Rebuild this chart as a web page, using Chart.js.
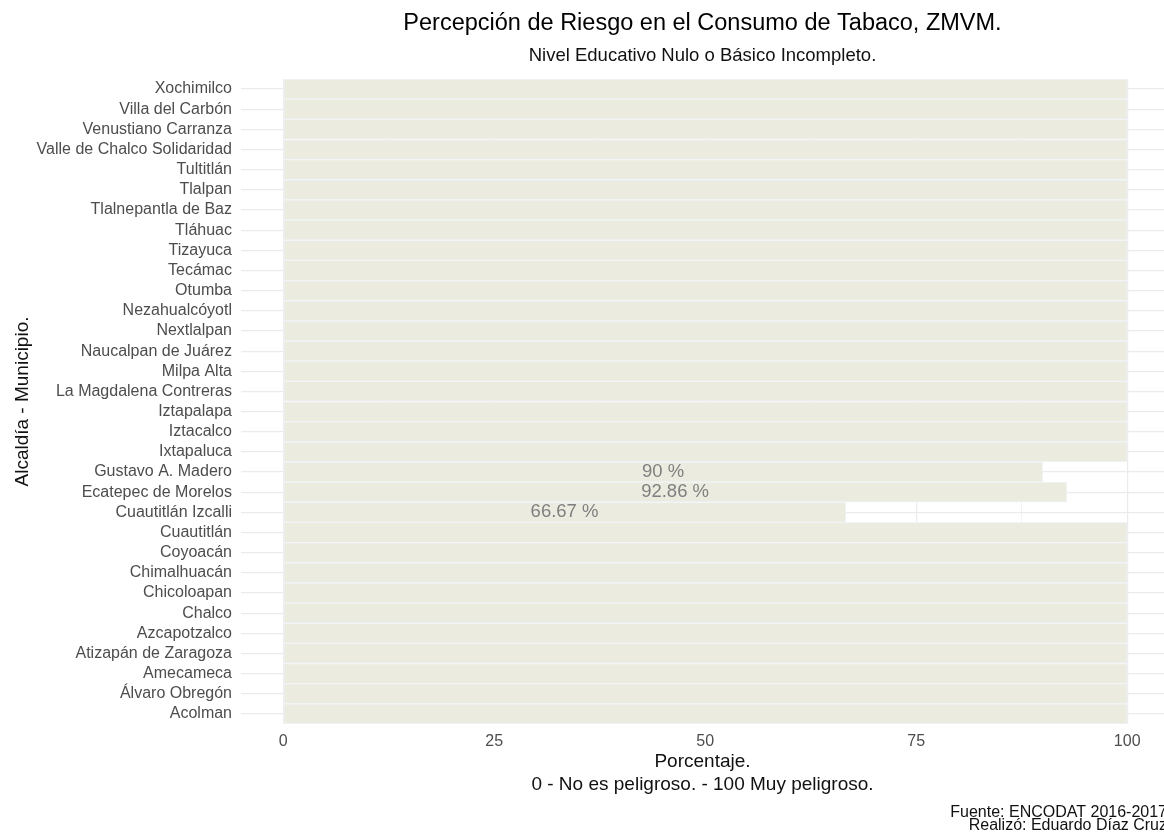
<!DOCTYPE html>
<html>
<head>
<meta charset="utf-8">
<script src="https://cdn.jsdelivr.net/npm/chart.js@4"></script>
<style>
  html, body { margin: 0; padding: 0; background: #fff; }
  #wrap { width: 1164px; height: 834px; position: relative; }
</style>
</head>
<body>
<div id="wrap"><canvas id="riesgoChart"></canvas></div>
<script>
// categorias (de arriba hacia abajo)
var municipios = [
    'Xochimilco', 'Villa del Carbón', 'Venustiano Carranza', 'Valle de Chalco Solidaridad',
    'Tultitlán', 'Tlalpan', 'Tlalnepantla de Baz', 'Tláhuac', 'Tizayuca', 'Tecámac',
    'Otumba', 'Nezahualcóyotl', 'Nextlalpan', 'Naucalpan de Juárez', 'Milpa Alta',
    'La Magdalena Contreras', 'Iztapalapa', 'Iztacalco', 'Ixtapaluca', 'Gustavo A. Madero',
    'Ecatepec de Morelos', 'Cuautitlán Izcalli', 'Cuautitlán', 'Coyoacán', 'Chimalhuacán',
    'Chicoloapan', 'Chalco', 'Azcapotzalco', 'Atizapán de Zaragoza', 'Amecameca',
    'Álvaro Obregón', 'Acolman'
]
var porcentaje = [
    100, 100, 100, 100, 100, 100, 100, 100, 100, 100,
    100, 100, 100, 100, 100, 100, 100, 100, 100, 90,
    92.86, 66.67, 100, 100, 100, 100, 100, 100, 100, 100,
    100, 100
]
var ticksX = [0, 12.5, 25, 37.5, 50, 62.5, 75, 87.5, 100]

var titulo = 'Percepción de Riesgo en el Consumo de Tabaco, ZMVM.'
var subtitulo = 'Nivel Educativo Nulo o Básico Incompleto.'
var tituloX = ['Porcentaje.', '0 - No es peligroso. - 100 Muy peligroso.']
var tituloY = 'Alcaldía - Municipio.'
var nota = ['Fuente: ENCODAT 2016-2017', 'Realizó: Eduardo Díaz Cruz']

var FONT = '"Liberation Sans", Arial, sans-serif'

// titulos, etiquetas de valores y nota
var textosPlugin = {
    id: 'textos',
    afterDatasetsDraw: function (chart) {
        var ctx = chart.ctx
        var meta = chart.getDatasetMeta(0)
        var xs = chart.scales.x
        ctx.save()
        ctx.font = '18.5px ' + FONT
        ctx.fillStyle = '#7f7f7f'
        ctx.textAlign = 'center'
        ctx.textBaseline = 'middle'
        porcentaje.forEach(function (v, i) {
            if (v >= 100) return
            ctx.fillText(v + ' %', xs.getPixelForValue(v / 2), meta.data[i].y)
        })
        ctx.restore()
    },
    afterDraw: function (chart) {
        var ctx = chart.ctx
        var area = chart.chartArea
        var cx = (area.left + area.right) / 2
        ctx.save()
        ctx.fillStyle = '#000'
        ctx.textAlign = 'center'
        ctx.textBaseline = 'alphabetic'
        ctx.font = '23.5px ' + FONT
        ctx.fillText(titulo, cx, 30)
        ctx.font = '18.5px ' + FONT
        ctx.fillStyle = '#111'
        ctx.fillText(subtitulo, cx, 61)
        ctx.textAlign = 'right'
        ctx.font = '16px ' + FONT
        ctx.fillText(nota[0], 1167, 817)
        ctx.fillText(nota[1], 1167, 829.5)
        ctx.restore()
    }
}

var ctx = document.getElementById('riesgoChart').getContext('2d')
new Chart(ctx, {
    type: 'bar',
    data: {
        labels: municipios,
        datasets: [{
            data: porcentaje,
            backgroundColor: '#ecebe0',
            borderColor: '#f1f5fa',
            borderWidth: 1,
            borderSkipped: false,
            categoryPercentage: 1,
            barPercentage: 1
        }]
    },
    options: {
        indexAxis: 'y',
        responsive: true,
        maintainAspectRatio: false,
        animation: false,
        layout: { padding: { top: 79, bottom: 38, left: 0, right: 0 } },
        plugins: {
            legend: { display: false },
            tooltip: { enabled: false }
        },
        scales: {
            x: {
                type: 'linear',
                min: -5,
                max: 104.36,
                afterBuildTicks: function (scale) {
                    scale.ticks = ticksX.map(function (v) { return { value: v } })
                },
                afterFit: function (scale) { scale.height = 72 },
                ticks: {
                    color: '#4d4d4d',
                    font: { family: FONT, size: 16 },
                    padding: 8,
                    maxRotation: 0,
                    autoSkip: false,
                    callback: function (v) { return v % 25 === 0 ? String(v) : '' }
                },
                grid: {
                    color: '#ebebeb',
                    lineWidth: function (c) { return c.tick && c.tick.value % 25 === 0 ? 1.2 : 0.6 },
                    drawTicks: false
                },
                border: { display: false },
                title: {
                    display: true,
                    text: tituloX,
                    color: '#111',
                    font: { family: FONT, size: 19, lineHeight: '22.5px' },
                    padding: { top: 0, bottom: 0 }
                }
            },
            y: {
                afterFit: function (scale) { scale.width = 241 },
                ticks: {
                    color: '#4d4d4d',
                    font: { family: FONT, size: 16 },
                    padding: 9,
                    autoSkip: false
                },
                grid: {
                    color: '#ebebeb',
                    lineWidth: 1.2,
                    offset: false,
                    drawTicks: false
                },
                border: { display: false },
                title: {
                    display: true,
                    text: tituloY,
                    color: '#111',
                    font: { family: FONT, size: 19 },
                    padding: { top: 11, bottom: 0 }
                }
            }
        }
    },
    plugins: [textosPlugin]
})
</script>
</body>
</html>
